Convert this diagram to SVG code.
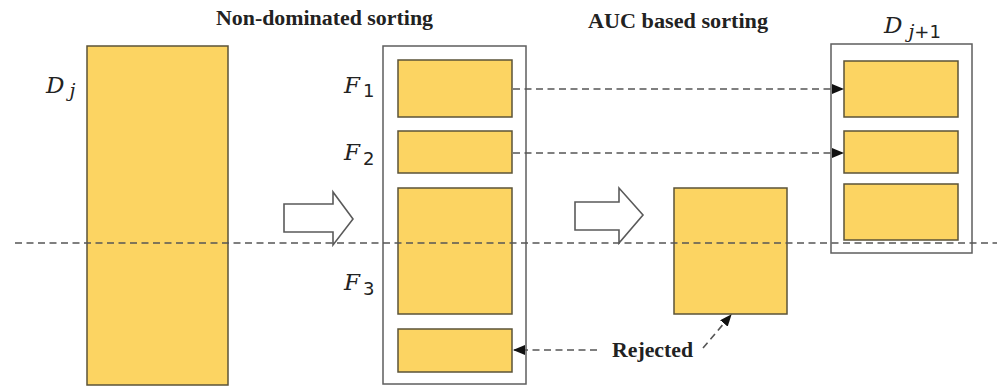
<svg xmlns="http://www.w3.org/2000/svg" width="997" height="392" viewBox="0 0 997 392">
<defs>
<style>
.y{fill:#FCD462;stroke:#5B5338;stroke-width:1.5}
.o{fill:none;stroke:#5E5E5E;stroke-width:1.5}
.d{fill:none;stroke:#555;stroke-width:1.6;stroke-dasharray:7 4.5}
.h{fill:#fff;stroke:#5A5A5A;stroke-width:1.6}
.t{font-family:"Liberation Serif",serif;font-weight:bold;font-size:20px;fill:#222}
.m{font-family:"DejaVu Serif",serif;font-style:italic;font-size:23px;fill:#222}
.s{font-family:"DejaVu Sans",sans-serif;font-size:18px;fill:#222}
</style>
<marker id="ah" markerWidth="12" markerHeight="10" refX="11" refY="5" orient="auto" markerUnits="userSpaceOnUse">
<path d="M0,0 L12,5 L0,10 Z" fill="#111"/>
</marker>
</defs>
<rect width="997" height="392" fill="#fff"/>
<text class="t" x="216" y="25" textLength="217" lengthAdjust="spacingAndGlyphs">Non-dominated sorting</text>
<text class="t" x="588" y="28" textLength="180" lengthAdjust="spacingAndGlyphs">AUC based sorting</text>
<g id="Dj">
<rect class="y" x="87" y="46" width="141" height="339"/>
<text class="m" x="46" y="93">D<tspan font-size="19" dx="5" dy="4">j</tspan></text>
</g>
<g id="F">
<rect class="o" x="383" y="46" width="143" height="338"/>
<rect class="y" x="398" y="60" width="114" height="57"/>
<rect class="y" x="398" y="131" width="114" height="42"/>
<rect class="y" x="398" y="188" width="114" height="126"/>
<rect class="y" x="398" y="329" width="114" height="43"/>
<text class="m" x="344" y="93">F<tspan class="s" font-style="normal" dx="3" dy="4">1</tspan></text>
<text class="m" x="344" y="160">F<tspan class="s" font-style="normal" dx="3" dy="5">2</tspan></text>
<text class="m" x="344" y="290">F<tspan class="s" font-style="normal" dx="3" dy="5">3</tspan></text>
</g>
<g id="AUC">
<rect class="y" x="674" y="188" width="113" height="126"/>
</g>
<g id="Dj1">
<rect class="o" x="831" y="44" width="141" height="209"/>
<rect class="y" x="844" y="61" width="114" height="56"/>
<rect class="y" x="844" y="131" width="114" height="42"/>
<rect class="y" x="844" y="184" width="114" height="56"/>
<text class="m" x="884" y="33">D<tspan font-size="19" dx="6" dy="5">j</tspan><tspan class="s" font-style="normal">+1</tspan></text>
</g>
<g id="arrows">
<path class="h" d="M284,204 H333 V192 L353,219 L333,245 V232 H284 Z"/>
<path class="h" d="M575,202 H619 V188 L643,215 L619,243 V230 H575 Z"/>
</g>
<g id="connectors">
<line class="d" x1="15" y1="243" x2="997" y2="243"/>
<line class="d" x1="513" y1="89" x2="843" y2="89" marker-end="url(#ah)"/>
<line class="d" x1="513" y1="153" x2="843" y2="153" marker-end="url(#ah)"/>
<line class="d" x1="597" y1="350" x2="514" y2="350" marker-end="url(#ah)"/>
<line class="d" x1="703" y1="348" x2="731" y2="315" marker-end="url(#ah)"/>
</g>
<text class="t" x="612" y="357" textLength="81" lengthAdjust="spacingAndGlyphs">Rejected</text>
</svg>
